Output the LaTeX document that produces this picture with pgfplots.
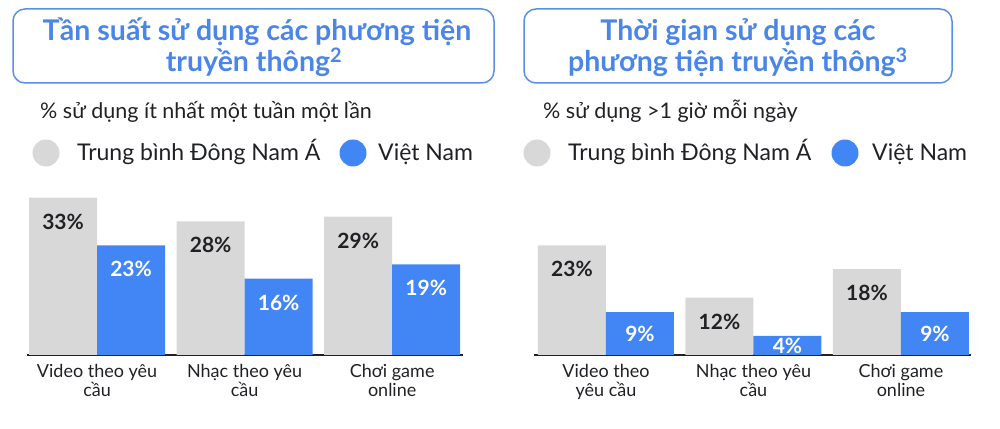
\documentclass[border=0pt]{standalone}
\usepackage{fontspec}
\setmainfont{Lato}
\usepackage{pgfplots}
\pgfplotsset{compat=1.18}

\definecolor{sea}{HTML}{D8D8D8}
\definecolor{vn}{HTML}{4285F4}
\definecolor{titleblue}{HTML}{4A86E8}
\definecolor{boxblue}{HTML}{5B8FE3}
\definecolor{ink}{HTML}{202124}

% one panel = 3 categories, two bars each; 1px of the reference = 1pt
\pgfplotsset{
  panel/.style={
    scale only axis, width=436pt, height=167pt,
    ymin=0, ymax=35, xmin=-0.475, xmax=2.48,
    ybar=0pt, bar width=68pt,
    axis x line*=bottom, axis y line=none,
    x axis line style={line width=2pt, draw=ink, -},
    xtick={0,1,2}, major tick length=0pt,
    xticklabel style={align=center, font=\fontsize{18}{19.5}\selectfont, text=ink,
      inner sep=0pt, yshift=-9pt},
    clip=false,
    /pgf/number format/assume math mode=true,
    visualization depends on={y \as \rawy},
    nodes near coords={\pgfmathprintnumber{\pgfplotspointmeta}\%},
    every node near coord/.append style={anchor=center,
      font=\fontsize{21}{22}\selectfont\bfseries,
      yshift={-min(24,\rawy*2.385)}},
  },
}

\begin{document}
\begin{tikzpicture}[x=1pt,y=1pt]
\useasboundingbox (0,0) rectangle (1000,428);

% title boxes
\draw[boxblue, line width=1.5pt, rounded corners=12pt] (13,345) rectangle (494,419);
\draw[boxblue, line width=1.5pt, rounded corners=12pt] (524,345) rectangle (952,419);
\begin{scope}[every node/.style={anchor=base, inner sep=0pt, text=titleblue,
    font=\fontsize{28.5}{31}\selectfont\bfseries}]
  \node at (257,387) {Tần suất sử dụng các phương tiện};
  \node at (254,356) {truyền thông\textsuperscript{2}};
  \node at (738,387) {Thời gian sử dụng các};
  \node at (738,356) {phương tiện truyền thông\textsuperscript{3}};
\end{scope}

% subtitles and legends
\begin{scope}[every node/.style={anchor=base west, inner sep=0pt, text=ink}]
  \node[font=\fontsize{21.5}{24}\selectfont] at (40,309) {\% sử dụng ít nhất một tuần một lần};
  \node[font=\fontsize{21.5}{24}\selectfont] at (543,309) {\% sử dụng >1 giờ mỗi ngày};
  \fill[sea] (46,275) circle (13.5);
  \fill[vn] (353,275) circle (13.5);
  \node[font=\fontsize{23}{26}\selectfont] at (77,267) {Trung bình Đông Nam Á};
  \node[font=\fontsize{23}{26}\selectfont] at (378,267) {Việt Nam};
  \fill[sea] (537,275) circle (13.5);
  \fill[vn] (845,275) circle (13.5);
  \node[font=\fontsize{23}{26}\selectfont] at (568,267) {Trung bình Đông Nam Á};
  \node[font=\fontsize{23}{26}\selectfont] at (872,267) {Việt Nam};
\end{scope}

% left: weekly usage
\begin{axis}[panel, at={(27pt,73pt)}, anchor=south west,
    xticklabels={{Video theo yêu\\cầu}, {Nhạc theo yêu\\cầu}, {Chơi game\\online}}]
  \addplot[fill=sea, draw=none, every node near coord/.append style={text=ink}]
    coordinates {(0,33) (1,28) (2,29)};
  \addplot[fill=vn, draw=none, every node near coord/.append style={text=white}]
    coordinates {(0,23) (1,16) (2,19)};
\end{axis}

% right: more than 1 hour per day
\begin{axis}[panel, at={(534pt,73pt)}, anchor=south west, width=437pt, xmin=-0.488, xmax=2.475,
    xticklabels={{Video theo\\yêu cầu}, {Nhạc theo yêu\\cầu}, {Chơi game\\online}}]
  \addplot[fill=sea, draw=none, every node near coord/.append style={text=ink}]
    coordinates {(0,23) (1,12) (2,18)};
  \addplot[fill=vn, draw=none, every node near coord/.append style={text=white}]
    coordinates {(0,9) (1,4) (2,9)};
\end{axis}
\end{tikzpicture}
\end{document}
